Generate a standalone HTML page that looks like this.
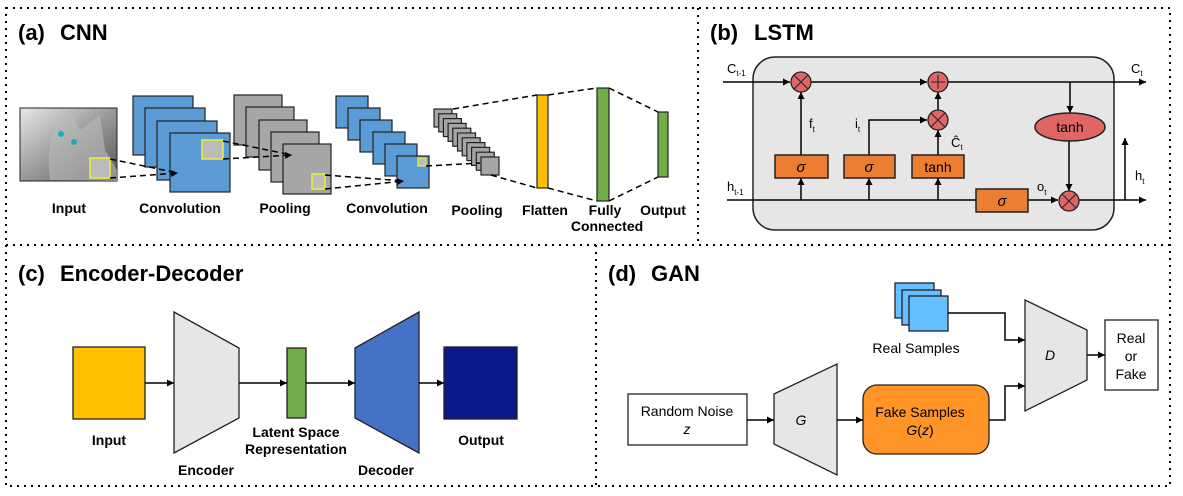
<!DOCTYPE html>
<html><head><meta charset="utf-8"><style>
html,body{margin:0;padding:0;background:#fff;}
svg{display:block;font-family:"Liberation Sans",sans-serif;}
</style></head><body>
<svg width="1183" height="496" viewBox="0 0 1183 496" xmlns="http://www.w3.org/2000/svg">
<defs>
<marker id="ar" viewBox="0 0 10 10" refX="10" refY="5" markerWidth="7" markerHeight="7" orient="auto" markerUnits="userSpaceOnUse"><path d="M0,0 L10,5 L0,10 z" fill="#000"/></marker>
<linearGradient id="cat" x1="0" y1="0" x2="1" y2="1"><stop offset="0" stop-color="#e8e8e8"/><stop offset="0.5" stop-color="#9a9a9a"/><stop offset="1" stop-color="#555"/></linearGradient>
</defs>
<g stroke="#000" stroke-width="2" stroke-dasharray="2 5" fill="none">
<rect x="6" y="8" width="1164" height="478"/>
<line x1="698" y1="8" x2="698" y2="245"/>
<line x1="6" y1="245" x2="1170" y2="245"/>
<line x1="596" y1="245" x2="596" y2="486"/>
</g>
<g font-weight="bold" font-size="22">
<text x="18" y="40">(a)</text><text x="60" y="40">CNN</text>
<text x="710" y="40">(b)</text><text x="754" y="40">LSTM</text>
<text x="18" y="281">(c)</text><text x="60" y="281">Encoder-Decoder</text>
<text x="608" y="281">(d)</text><text x="651" y="281">GAN</text>
</g>

<rect x="20" y="108" width="97" height="73" fill="url(#cat)" stroke="#222"/>
<path d="M50,180 Q45,140 60,120 L70,110 L80,130 L100,115 L105,150 L117,170 L117,181 Z" fill="#bbb" opacity="0.6"/>
<circle cx="61" cy="134" r="3" fill="#2ab"/><circle cx="74" cy="142" r="3" fill="#2ab"/>
<rect x="90" y="158" width="20" height="20" fill="#bbb" stroke="#ee3" stroke-width="1.5"/>
<g fill="#5b9bd5" stroke="#222" stroke-width="1.2">
<rect x="133" y="96" width="60" height="59"/><rect x="145" y="108" width="60" height="59"/><rect x="157" y="121" width="60" height="59"/><rect x="170" y="133" width="60" height="59"/>
</g>
<rect x="202" y="140" width="21" height="19" fill="#bbb" stroke="#ee3" stroke-width="1.5"/>
<g fill="#a6a6a6" stroke="#222" stroke-width="1.2">
<rect x="234" y="95" width="48" height="50"/><rect x="246" y="107" width="48" height="50"/><rect x="259" y="120" width="48" height="50"/><rect x="271" y="132" width="48" height="50"/><rect x="283" y="144" width="48" height="50"/>
</g>
<rect x="312" y="174" width="13" height="15" fill="#bbb" stroke="#ee3" stroke-width="1.5"/>
<g fill="#5b9bd5" stroke="#222" stroke-width="1.2">
<rect x="336" y="96" width="32" height="32"/><rect x="348" y="108" width="32" height="32"/><rect x="360" y="120" width="32" height="32"/><rect x="373" y="132" width="32" height="32"/><rect x="385" y="144" width="32" height="32"/><rect x="397" y="156" width="32" height="32"/>
</g>
<rect x="418" y="158" width="8" height="8" fill="#bbb" stroke="#ee3" stroke-width="1.2"/>
<g fill="#a6a6a6" stroke="#222" stroke-width="1.2">
<rect x="434" y="109" width="18" height="18"/><rect x="438.7" y="113.8" width="18" height="18"/><rect x="443.4" y="118.6" width="18" height="18"/><rect x="448.1" y="123.4" width="18" height="18"/><rect x="452.8" y="128.2" width="18" height="18"/><rect x="457.5" y="133" width="18" height="18"/><rect x="462.2" y="137.8" width="18" height="18"/><rect x="466.9" y="142.6" width="18" height="18"/><rect x="471.6" y="147.4" width="18" height="18"/><rect x="476.3" y="152.2" width="18" height="18"/><rect x="481" y="157" width="18" height="18"/>
</g>
<rect x="537" y="95" width="11" height="93" fill="#ffc000" stroke="#222" stroke-width="1.2"/>
<rect x="597" y="88" width="12" height="113" fill="#70ad47" stroke="#222" stroke-width="1.2"/>
<rect x="658" y="112" width="10" height="65" fill="#70ad47" stroke="#222" stroke-width="1.2"/>
<g stroke="#000" stroke-width="1.5" stroke-dasharray="6 4" fill="none">
<line x1="110" y1="159" x2="178" y2="173"/><line x1="110" y1="178" x2="178" y2="173" marker-end="url(#ar)"/>
<line x1="223" y1="141" x2="292" y2="155"/><line x1="223" y1="159" x2="292" y2="155" marker-end="url(#ar)"/>
<line x1="325" y1="175" x2="404" y2="181"/><line x1="325" y1="189" x2="404" y2="181" marker-end="url(#ar)"/>
<line x1="426" y1="166" x2="480" y2="163"/>
<line x1="453" y1="109" x2="537" y2="95"/><line x1="491" y1="175" x2="537" y2="188"/>
<line x1="548" y1="95" x2="597" y2="88"/><line x1="548" y1="188" x2="597" y2="201"/>
<line x1="609" y1="88" x2="658" y2="112"/><line x1="609" y1="201" x2="658" y2="177"/>
</g>
<g font-weight="bold" font-size="14" text-anchor="middle">
<text x="69" y="213">Input</text><text x="180" y="213">Convolution</text><text x="285" y="213">Pooling</text><text x="387" y="213">Convolution</text><text x="477" y="215">Pooling</text><text x="545" y="215">Flatten</text><text x="605" y="215">Fully</text><text x="607" y="231">Connected</text><text x="663" y="215">Output</text>
</g>

<rect x="753" y="57" width="361" height="173" rx="22" fill="#e6e6e6" stroke="#222" stroke-width="1.5"/>
<g stroke="#000" stroke-width="1.5" fill="none">
<line x1="723" y1="82" x2="790" y2="82" marker-end="url(#ar)"/>
<line x1="811" y1="82" x2="927" y2="82" marker-end="url(#ar)"/>
<line x1="948" y1="82" x2="1146" y2="82" marker-end="url(#ar)"/>
<line x1="727" y1="200" x2="976" y2="200"/>
<line x1="1028" y1="200" x2="1058" y2="200" marker-end="url(#ar)"/>
<line x1="1079" y1="200" x2="1146" y2="200" marker-end="url(#ar)"/>
<line x1="801" y1="200" x2="801" y2="178" marker-end="url(#ar)"/>
<line x1="869" y1="200" x2="869" y2="178" marker-end="url(#ar)"/>
<line x1="938" y1="200" x2="938" y2="178" marker-end="url(#ar)"/>
<line x1="801" y1="155" x2="801" y2="92" marker-end="url(#ar)"/>
<polyline points="869,155 869,120 927,120" marker-end="url(#ar)"/>
<line x1="938" y1="155" x2="938" y2="130" marker-end="url(#ar)"/>
<line x1="938" y1="110" x2="938" y2="92" marker-end="url(#ar)"/>
<line x1="1070" y1="82" x2="1070" y2="113" marker-end="url(#ar)"/>
<line x1="1069" y1="141" x2="1069" y2="191" marker-end="url(#ar)"/>
<line x1="1125" y1="200" x2="1125" y2="138" marker-end="url(#ar)"/>
</g>
<g fill="#ed7d31" stroke="#222" stroke-width="1.5">
<rect x="775" y="155" width="53" height="23"/><rect x="844" y="155" width="51" height="23"/><rect x="912" y="155" width="52" height="23"/><rect x="976" y="189" width="52" height="23"/>
</g>
<ellipse cx="1070" cy="127" rx="35" ry="14" fill="#e06666" stroke="#222" stroke-width="1.5"/>
<g fill="#e06666" stroke="#222" stroke-width="1.3">
<circle cx="801" cy="82" r="10"/><circle cx="938" cy="82" r="10"/><circle cx="938" cy="120" r="10"/><circle cx="1069" cy="201" r="10"/>
</g>
<g stroke="#222" stroke-width="1">
<path d="M794,75 L808,89 M808,75 L794,89"/><path d="M931,113 L945,127 M945,113 L931,127"/><path d="M1062,194 L1076,208 M1076,194 L1062,208"/><path d="M938,75 L938,89 M931,82 L945,82"/>
</g>
<g font-size="15" text-anchor="middle">
<text x="801" y="172" font-style="italic">σ</text><text x="869" y="172" font-style="italic">σ</text><text x="938" y="172" font-size="14">tanh</text><text x="1002" y="206" font-style="italic">σ</text>
<text x="1070" y="132" font-size="14">tanh</text>
</g>
<g font-size="13">
<text x="727" y="73">C<tspan font-size="8" dy="3">t-1</tspan></text>
<text x="1131" y="73">C<tspan font-size="8" dy="3">t</tspan></text>
<text x="809" y="128">f<tspan font-size="8" dy="4">t</tspan></text>
<text x="855" y="128">i<tspan font-size="8" dy="4">t</tspan></text>
<text x="951" y="147">Ĉ<tspan font-size="8" dy="3">t</tspan></text>
<text x="727" y="191">h<tspan font-size="8" dy="4">t-1</tspan></text>
<text x="1037" y="191">o<tspan font-size="8" dy="4">t</tspan></text>
<text x="1135" y="180">h<tspan font-size="8" dy="4">t</tspan></text>
</g>

<rect x="73" y="347" width="72" height="72" fill="#ffc000" stroke="#222" stroke-width="1.3"/>
<polygon points="174,312 239,348 239,418 174,453" fill="#e6e6e6" stroke="#222" stroke-width="1.3"/>
<rect x="287" y="348" width="19" height="70" fill="#70ad47" stroke="#222" stroke-width="1.3"/>
<polygon points="355,348 419,312 419,453 355,418" fill="#4472c4" stroke="#222" stroke-width="1.3"/>
<rect x="444" y="347" width="73" height="72" fill="#0b1a8a" stroke="#222" stroke-width="1.3"/>
<g stroke="#000" stroke-width="1.5">
<line x1="145" y1="383" x2="174" y2="383" marker-end="url(#ar)"/>
<line x1="239" y1="383" x2="287" y2="383" marker-end="url(#ar)"/>
<line x1="306" y1="383" x2="355" y2="383" marker-end="url(#ar)"/>
<line x1="419" y1="383" x2="444" y2="383" marker-end="url(#ar)"/>
</g>
<g font-weight="bold" font-size="14" text-anchor="middle">
<text x="109" y="445">Input</text><text x="206" y="475">Encoder</text><text x="296" y="437">Latent Space</text><text x="296" y="454">Representation</text><text x="386" y="475">Decoder</text><text x="481" y="445">Output</text>
</g>

<g fill="#66bfff" stroke="#222" stroke-width="1.3">
<rect x="895" y="283" width="39" height="35"/><rect x="902" y="290" width="39" height="35"/><rect x="909" y="296" width="39" height="35"/>
</g>
<polygon points="1025,300 1087,330 1087,380 1025,411" fill="#e6e6e6" stroke="#222" stroke-width="1.3"/>
<rect x="1105" y="320" width="53" height="70" fill="#fff" stroke="#222" stroke-width="1.3"/>
<rect x="628" y="394" width="119" height="51" fill="#fff" stroke="#222" stroke-width="1.3"/>
<polygon points="774,394 837,364 837,475 774,444" fill="#e6e6e6" stroke="#222" stroke-width="1.3"/>
<rect x="863" y="385" width="126" height="69" rx="14" fill="#ff9428" stroke="#222" stroke-width="1.3"/>
<g stroke="#000" stroke-width="1.5" fill="none">
<polyline points="948,313 1005,313 1005,340 1025,340" marker-end="url(#ar)"/>
<polyline points="989,420 1005,420 1005,386 1025,386" marker-end="url(#ar)"/>
<line x1="1087" y1="355" x2="1105" y2="355" marker-end="url(#ar)"/>
<line x1="747" y1="420" x2="774" y2="420" marker-end="url(#ar)"/>
<line x1="837" y1="420" x2="863" y2="420" marker-end="url(#ar)"/>
</g>
<g font-size="14" text-anchor="middle">
<text x="916" y="353">Real Samples</text>
<text x="687" y="416">Random Noise</text><text x="687" y="434" font-style="italic">z</text>
<text x="801" y="425" font-style="italic">G</text>
<text x="920" y="417">Fake Samples</text><text x="920" y="435"><tspan font-style="italic">G</tspan>(<tspan font-style="italic">z</tspan>)</text>
<text x="1050" y="360" font-style="italic">D</text>
<text x="1131" y="343">Real</text><text x="1131" y="361">or</text><text x="1131" y="379">Fake</text>
</g>
</svg>
</body></html>
